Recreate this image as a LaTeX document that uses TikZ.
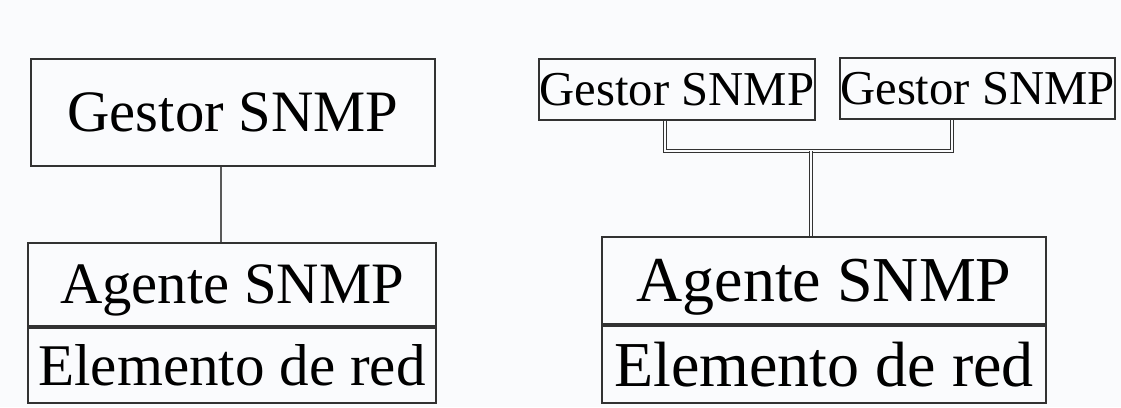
\documentclass[tikz,border=0pt]{standalone}
\usepackage{fontspec}
\setmainfont{Liberation Serif}
\definecolor{paper}{RGB}{250,251,253}
\definecolor{edge}{RGB}{50,50,50}

\begin{document}
\begin{tikzpicture}[
        x=0.75pt, y=-0.75pt,
        inner sep=0pt,
        box/.style={draw=edge, line width=0.8pt, rectangle, text depth=0pt},
        big/.style={font=\fontsize{44}{50}\selectfont},
        huge/.style={font=\fontsize{48}{54}\selectfont},
        small/.style={font=\fontsize{36.5}{42}\selectfont},
        wire/.style={draw=edge, line width=0.75pt, double=paper, double distance=1.1pt}
      ]
      \fill[paper] (0,0) rectangle (1121,407);
      \useasboundingbox (0,0) rectangle (1121,407);
      % one manager, one agent
      \node (G) [box,big,minimum width=303pt,minimum height=80.25pt] at (233,112.5) {Gestor SNMP};
      \node (A) [box,big,minimum width=306pt,minimum height=62.25pt] at (232,284.5) {Agente SNMP};
      \node (E) [box,big,minimum width=306pt,minimum height=56.25pt,font=\fontsize{44.3}{50}\selectfont] at (232,365.5) {Elemento de red};
      \draw[gray!70!black, line width=1.4pt] ([xshift=-9pt]G.south) -- ([xshift=-9pt]G.south |- A.north);
      % two managers sharing the same agent
      \node (G1) [box,small,minimum width=207pt,minimum height=45.75pt] at (677,89.5) {Gestor SNMP};
      \node (G2) [box,small,minimum width=206.25pt,minimum height=45.75pt] at (977.5,88.5) {Gestor SNMP};
      \node (A2) [box,huge,minimum width=333pt,minimum height=65.25pt] at (824,280.5) {Agente SNMP};
      \node (E2) [box,huge,minimum width=333pt,minimum height=57.75pt] at (824,364.5) {Elemento de red};
      \coordinate (bus) at (811,151);
      \draw[wire] ([xshift=-9pt]G1.south) |- (bus) -| ([xshift=-19pt]G2.south);
      \draw[wire] (bus) -- (bus |- A2.north);
    \end{tikzpicture}
\end{document}
